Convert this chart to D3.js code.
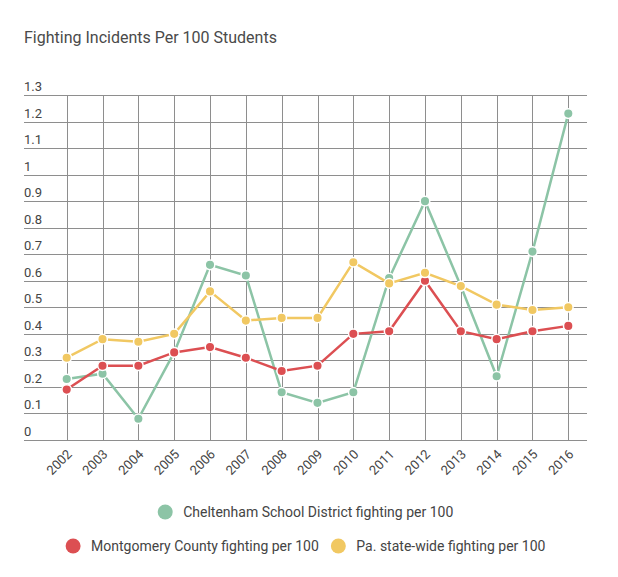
<!DOCTYPE html>
<html>
<head>
<meta charset="utf-8">
<script src="https://cdn.jsdelivr.net/npm/d3@7"></script>
<style>
  html, body { margin: 0; padding: 0; background: #fff; }
  svg { display: block; font-family: Roboto, "Noto Sans", sans-serif; }
</style>
</head>
<body>
<svg id="chart" width="618" height="577"></svg>
<script>
const title = "Fighting Incidents Per 100 Students";
const years = ["2002","2003","2004","2005","2006","2007","2008","2009","2010","2011","2012","2013","2014","2015","2016"];
const cheltenham = [0.23,0.25,0.08,0.33,0.66,0.62,0.18,0.14,0.18,0.61,0.90,0.58,0.24,0.71,1.23];
const montgomery = [0.19,0.28,0.28,0.33,0.35,0.31,0.26,0.28,0.40,0.41,0.60,0.41,0.38,0.41,0.43];
const statewide  = [0.31,0.38,0.37,0.40,0.56,0.45,0.46,0.46,0.67,0.59,0.63,0.58,0.51,0.49,0.50];
const yTicks = [0,0.1,0.2,0.3,0.4,0.5,0.6,0.7,0.8,0.9,1,1.1,1.2,1.3];
const seriesNames = ["Cheltenham School District fighting per 100","Montgomery County fighting per 100","Pa. state-wide fighting per 100"];
const seriesColors = ["#8cc4a6","#dc4f52","#f1c862"];

(function () {
const series = [cheltenham, montgomery, statewide].map((vals, i) => ({
  name: seriesNames[i], color: seriesColors[i],
  values: vals.map((v, j) => ({year: years[j], value: v}))
}));

const svg = d3.select("#chart");
const plotLeft = 24, plotRight = 587, plotTop = 95, plotBottom = 440;

const x = d3.scalePoint().domain(years).range([66.7, 568.3]);
const y = d3.scaleLinear().domain([0, 1.3]).range([plotBottom, plotTop]);

svg.append("text").attr("x", 24).attr("y", 43)
  .attr("font-size", 16).attr("fill", "#4a4a4a").text(title);

const grid = svg.append("g");
grid.selectAll("line.h").data(yTicks).join("line")
  .attr("class", "h")
  .attr("x1", plotLeft).attr("x2", plotRight)
  .attr("y1", d => Math.round(y(d)) + 0.5).attr("y2", d => Math.round(y(d)) + 0.5)
  .attr("stroke", "#8e8e8e").attr("stroke-width", 1);
grid.selectAll("line.v").data(years).join("line")
  .attr("class", "v")
  .attr("x1", d => Math.round(x(d)) + 0.5).attr("x2", d => Math.round(x(d)) + 0.5)
  .attr("y1", plotTop).attr("y2", plotBottom)
  .attr("stroke", "#8e8e8e").attr("stroke-width", 1);

svg.append("g").selectAll("text").data(yTicks).join("text")
  .attr("x", plotLeft).attr("y", d => y(d) - 4)
  .attr("font-size", 13).attr("fill", "#444")
  .text(d => d3.format("~g")(d));

svg.append("g").selectAll("text").data(years).join("text")
  .attr("transform", d => `translate(${x(d) + 6},${plotBottom + 15}) rotate(-45)`)
  .attr("text-anchor", "end")
  .attr("font-size", 13).attr("fill", "#444")
  .text(d => d);

const line = d3.line().x(d => x(d.year)).y(d => y(d.value));

const sg = svg.append("g").selectAll("g").data(series).join("g");
sg.append("path")
  .attr("d", d => line(d.values))
  .attr("fill", "none").attr("stroke", d => d.color).attr("stroke-width", 2.5);
sg.selectAll("circle").data(d => d.values.map(v => ({...v, color: d.color}))).join("circle")
  .attr("cx", d => x(d.year)).attr("cy", d => y(d.value)).attr("r", 4.8)
  .attr("fill", d => d.color).attr("stroke", "#fff").attr("stroke-width", 1.5);

const legendRows = [[0], [1, 2]];
const rowY = [512, 546];
const centerX = 305.5;
const lg = svg.append("g");
legendRows.forEach((row, ri) => {
  const items = row.map(i => {
    const g = lg.append("g");
    g.append("circle").attr("cx", 0).attr("cy", 0).attr("r", 7.5).attr("fill", seriesColors[i]);
    const t = g.append("text").attr("x", 18).attr("y", 5)
      .attr("font-size", 14).attr("fill", "#444").text(seriesNames[i]);
    const w = 18 + t.node().getComputedTextLength() + 7.5;
    return {g, w};
  });
  const gap = 12;
  const total = d3.sum(items, d => d.w) + gap * (items.length - 1);
  let cx = centerX - total / 2 + 7.5;
  items.forEach(it => {
    it.g.attr("transform", `translate(${cx},${rowY[ri]})`);
    cx += it.w + gap;
  });
});
})();
</script>
</body>
</html>
